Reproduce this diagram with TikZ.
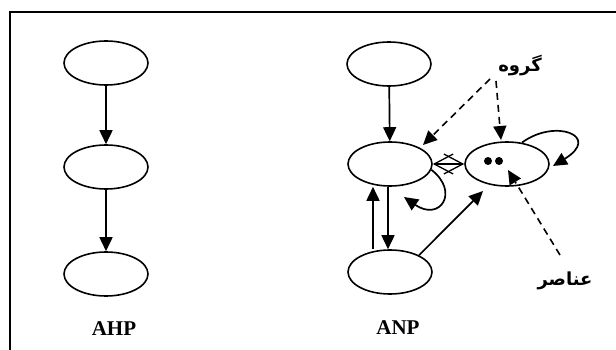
\documentclass[tikz,border=0pt]{standalone}
\usepackage{fontspec}
\setmainfont{Liberation Serif}
\newfontfamily\arabicfont[Script=Arabic]{DejaVu Sans}
\TeXXeTstate=1
\usetikzlibrary{shapes.geometric,arrows.meta}
\begin{document}
\begin{tikzpicture}[x=1pt,y=-1pt,
  oval/.style={draw,ellipse,line width=1.6pt,minimum width=84pt,minimum height=44pt,inner sep=0pt},
  conn/.style={line width=1.7pt,-{Triangle[length=14pt,width=13pt]}},
  dconn/.style={line width=1.6pt,dash pattern=on 7pt off 5pt,-{Triangle[length=14pt,width=13pt]}},
  lab/.style={font=\fontsize{21}{24}\selectfont\bfseries},
  alab/.style={font=\arabicfont\bfseries\fontsize{18}{22}\selectfont}]
\useasboundingbox (0,0) rectangle (616,350);
\draw[line width=1.6pt] (10,352) -- (10,12) -- (618,12);
% AHP
\node[oval] (a1) at (106,63) {};
\node[oval] (a2) at (106,167) {};
\node[oval] (a3) at (106,274) {};
\draw[conn] (a1) -- (a2);
\draw[conn] (a2) -- (a3);
\node[lab] (ahp) at (114,329) {AHP};
% ANP
\node[oval] (b1) at (389,64) {};
\node[oval] (b2) at (390,164) {};
\node[oval] (b3) at (390,272) {};
\node[oval] (b4) at (507,164) {};
\fill (488,161) circle (4pt) (499,161) circle (4pt);
\draw[conn] (b1) -- (b2);
\draw[conn] ([xshift=-2pt]b2.south) -- ([xshift=-2pt]b3.north);
\draw[conn] ([xshift=-17pt]b3.north) -- ([xshift=-17pt]b2.south);
\draw[conn] (b3.30) -- (483,191);
\draw[conn] (b2.-8) .. controls (460,192) and (440,222) .. (404,197);
\draw[conn] (b4.55) .. controls (555,118) and (602,136) .. (553,166);
\draw[line width=1.3pt,{Straight Barb[length=19pt,width=20pt]}-{Straight Barb[length=19pt,width=20pt]}] (b2.east) -- (b4.west);
\node[alab] (grp) at (520,66) {\beginR گروه\endR};
\node[alab] (elm) at (565,281) {\beginR عناصر\endR};
\coordinate (g1) at (490,79);
\coordinate (g2) at (496,81);
\coordinate (e1) at (560,255);
\draw[dconn] (g1) -- (423,145);
\draw[dconn] (g2) -- (501,140);
\draw[dconn] (e1) -- (508,170);
\node[lab] (anp) at (398,328) {ANP};
\end{tikzpicture}
\end{document}
